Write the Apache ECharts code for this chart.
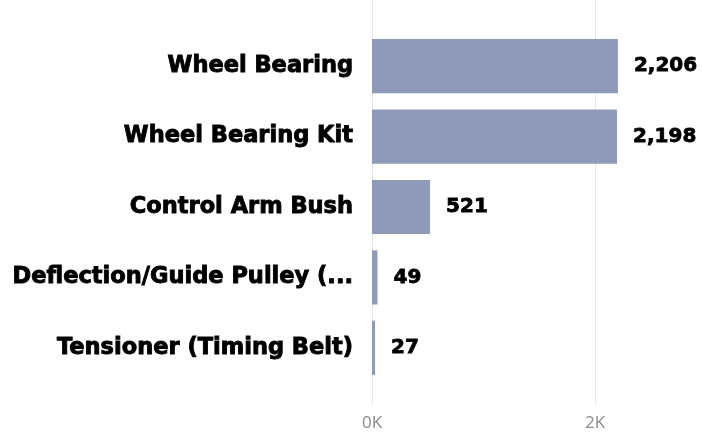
<!DOCTYPE html>
<html>
<head>
<meta charset="utf-8">
<script src="https://cdn.jsdelivr.net/npm/echarts@6/dist/echarts.min.js"></script>
<style>
  html, body { margin: 0; padding: 0; background: #fff; }
  #main { width: 702px; height: 438px; }
</style>
</head>
<body>
<div id="main"></div>
<script>
// 类目和数值
var categories = ['Wheel Bearing', 'Wheel Bearing Kit', 'Control Arm Bush', 'Deflection/Guide Pulley (...', 'Tensioner (Timing Belt)'];
var values = [2206, 2198, 521, 49, 27];
var tickValues = [0, 2000]; // 0K, 2K

var chart = echarts.init(document.getElementById('main'));

var option = {
    animation: false,
    grid: [
        { left: 372, right: 0, top: 31, bottom: 55 },  // 柱子
        { left: 372, right: 0, top: 0, bottom: 33 }    // 网格线和刻度
    ],
    xAxis: [{
        gridIndex: 0,
        type: 'value',
        min: 0,
        max: 2960,
        show: false
    }, {
        gridIndex: 1,
        type: 'value',
        min: tickValues[0],
        max: 2960,
        interval: tickValues[1] - tickValues[0],
        axisLine: { show: false },
        axisTick: { show: false },
        axisLabel: {
            color: '#8a8a8a',
            fontFamily: 'Open Sans',
            fontSize: 17,
            margin: 10,
            showMaxLabel: false,
            formatter: function (v) { return (v / 1000) + 'K'; }
        },
        splitLine: { show: true, lineStyle: { color: '#e6e6e6', width: 1 } }
    }],
    yAxis: [{
        gridIndex: 0,
        type: 'category',
        data: categories,
        inverse: true,
        axisLine: { show: false },
        axisTick: { show: false },
        axisLabel: {
            color: '#000',
            fontFamily: 'DejaVu Sans',
            fontWeight: 'bold',
            fontSize: 22.5,
            margin: 19,
            textBorderColor: '#000',
            textBorderWidth: 0.9
        }
    }, {
        gridIndex: 1,
        type: 'value',
        show: false
    }],
    series: [{
        type: 'bar',
        xAxisIndex: 0,
        yAxisIndex: 0,
        data: values,
        barCategoryGap: '23%',
        itemStyle: { color: '#8f9ab8' },
        label: {
            show: true,
            position: 'right',
            distance: 16,
            color: '#000',
            fontFamily: 'DejaVu Sans',
            fontWeight: 'bold',
            fontSize: 20,
            textBorderColor: '#000',
            textBorderWidth: 0.8,
            formatter: function (p) { return p.value.toLocaleString('en-US'); }
        }
    }]
};

chart.setOption(option);
</script>
</body>
</html>
